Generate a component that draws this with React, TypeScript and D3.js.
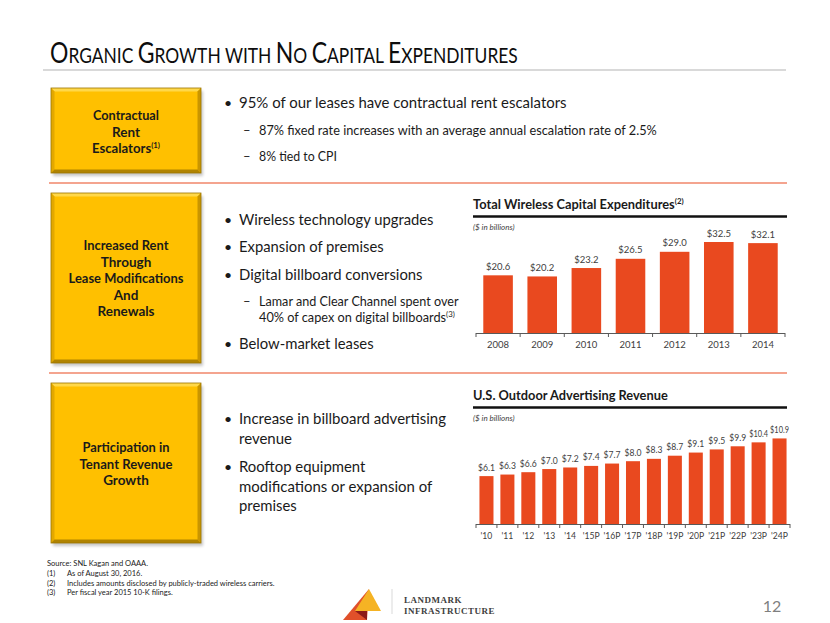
import { useEffect, useLayoutEffect, useRef, useState } from 'react';
import * as d3 from 'd3';

// chart data
const capexYears = ['2008', '2009', '2010', '2011', '2012', '2013', '2014'];
const capexValues = [20.6, 20.2, 23.2, 26.5, 29.0, 32.5, 32.1];

const outdoorYears = ["'10", "'11", "'12", "'13", "'14", "'15P", "'16P", "'17P", "'18P", "'19P", "'20P", "'21P", "'22P", "'23P", "'24P"];
const outdoorValues = [6.1, 6.3, 6.6, 7.0, 7.2, 7.4, 7.7, 8.0, 8.3, 8.7, 9.1, 9.5, 9.9, 10.4, 10.9];

const FONT = 'Lato, "Open Sans", sans-serif';
const BAR = '#E9491F';
const INK = '#404040';
const TEXT = '#1a1a1a';

interface BarChartProps {
    cats: string[];
    values: number[];
    x0: number;
    x1: number;
    base: number;
    top: number;
    yMax: number;
    fontSize: number;
}

const BarChart: React.FC<BarChartProps> = ({ cats, values, x0, x1, base, top, yMax, fontSize }) => {
    const ref = useRef<SVGGElement | null>(null);

    useEffect(() => {
        const g = d3.select(ref.current);
        g.selectAll('*').remove();

        const x = d3.scaleBand<string>().domain(cats).range([x0, x1]).paddingInner(0.33).paddingOuter(0.165);
        const y = d3.scaleLinear().domain([0, yMax]).range([base, top]);
        const maxW = x.step() - 2;

        // narrow a label a little if it would run into its neighbour
        const fit = function (this: SVGTextElement) {
            const w = this.getBBox().width;
            if (w > maxW) {
                const t = d3.select(this);
                const cx = +t.attr('x');
                const cy = +t.attr('y');
                t.attr('x', 0).attr('y', 0)
                    .attr('transform', `translate(${cx},${cy}) scale(${maxW / w},1)`);
            }
        };

        g.selectAll('rect.bar')
            .data(values)
            .join('rect')
            .attr('class', 'bar')
            .attr('x', (d, i) => x(cats[i]) as number)
            .attr('y', d => y(d))
            .attr('width', x.bandwidth())
            .attr('height', d => base - y(d))
            .attr('fill', BAR);

        g.selectAll('text.val')
            .data(values)
            .join('text')
            .attr('class', 'val')
            .attr('x', (d, i) => (x(cats[i]) as number) + x.bandwidth() / 2)
            .attr('y', d => y(d) - 5.5)
            .attr('text-anchor', 'middle')
            .attr('font-size', fontSize)
            .attr('fill', INK)
            .text(d => `$${d.toFixed(1)}`)
            .each(fit);

        // axis line with ticks on the category boundaries
        g.append('line')
            .attr('x1', x0).attr('x2', x1)
            .attr('y1', base + 0.5).attr('y2', base + 0.5)
            .attr('stroke', '#595959').attr('stroke-width', 1.2);

        g.selectAll('line.tick')
            .data(d3.range(cats.length + 1))
            .join('line')
            .attr('class', 'tick')
            .attr('x1', i => x0 + i * x.step()).attr('x2', i => x0 + i * x.step())
            .attr('y1', base).attr('y2', base + 4)
            .attr('stroke', '#595959');

        g.selectAll('text.cat')
            .data(cats)
            .join('text')
            .attr('class', 'cat')
            .attr('x', d => (x(d) as number) + x.bandwidth() / 2)
            .attr('y', base + 15)
            .attr('text-anchor', 'middle')
            .attr('font-size', fontSize)
            .attr('fill', INK)
            .text(d => d)
            .each(fit);
    }, [cats, values, x0, x1, base, top, yMax, fontSize]);

    return <g ref={ref} fontFamily={FONT} />;
};

// text squeezed horizontally to a given width (the slide font is narrower than Lato)
interface FitProps {
    x: number;
    y: number;
    w?: number;
    size: number;
    weight?: number;
    anchor?: 'start' | 'middle' | 'end';
    fill?: string;
    italic?: boolean;
    children: React.ReactNode;
}

const Fit: React.FC<FitProps> = ({ x, y, w, size, weight = 400, anchor = 'start', fill = TEXT, italic, children }) => {
    const ref = useRef<SVGTextElement | null>(null);
    const [s, setS] = useState(1);

    useLayoutEffect(() => {
        if (!w || !ref.current) return;
        const natural = ref.current.getBBox().width;
        if (natural > 0) setS(w / natural);
    }, [w]);

    return (
        <text ref={ref} transform={`translate(${x},${y}) scale(${s},1)`} textAnchor={anchor} fontSize={size}
            fontWeight={weight} fontStyle={italic ? 'italic' : 'normal'} fill={fill}>
            {children}
        </text>
    );
};

interface BoxProps {
    x: number;
    y: number;
    w: number;
    h: number;
    lines: { t: React.ReactNode; len?: number }[];
    firstBase: number;
}

const Box: React.FC<BoxProps> = ({ x, y, w, h, lines, firstBase }) => {
    const b = 3.5;
    return (
        <g>
            <rect x={x + 2} y={y + 3} width={w} height={h} fill="#000" opacity={0.22} filter="url(#blur)" />
            <rect x={x} y={y} width={w} height={h} fill="#FFC000" />
            <polygon points={`${x},${y} ${x + w},${y} ${x + w - b},${y + b} ${x + b},${y + b}`} fill="#FFD84A" />
            <polygon points={`${x},${y} ${x + b},${y + b} ${x + b},${y + h - b} ${x},${y + h}`} fill="#E3A800" />
            <polygon points={`${x + w},${y} ${x + w - b},${y + b} ${x + w - b},${y + h - b} ${x + w},${y + h}`} fill="#C99500" />
            <polygon points={`${x},${y + h} ${x + b},${y + h - b} ${x + w - b},${y + h - b} ${x + w},${y + h}`} fill="#B08300" />
            <rect x={x} y={y} width={w} height={h} fill="none" stroke="#9C7500" strokeWidth={0.8} />
            {lines.map((l, i) => (
                <Fit key={i} x={x + w / 2} y={firstBase + i * 16.6} w={l.len} anchor="middle" size={13.5} weight={700}>
                    {l.t}
                </Fit>
            ))}
        </g>
    );
};

const Bullet: React.FC<{ y: number; text: string; len?: number }> = ({ y, text, len }) => (
    <g>
        <text x={224} y={y} fontSize={14} fill={TEXT}>•</text>
        <Fit x={239} y={y} w={len} size={15.5}>{text}</Fit>
    </g>
);

const Dash: React.FC<{ y: number; len?: number; dash?: boolean; children: React.ReactNode }> = ({ y, len, dash = true, children }) => (
    <g>
        {dash && <text x={243} y={y} fontSize={13} fill={TEXT}>–</text>}
        <Fit x={259} y={y} w={len} size={13}>{children}</Fit>
    </g>
);

const sup = (t: string) => <tspan fontSize={8} dy={-5}>{t}</tspan>;

const App = () => {
    return (
        <svg width={830} height={623} style={{ position: 'absolute', left: 0, top: 0, background: '#fff' }} fontFamily={FONT}>
            <defs>
                <filter id="blur" x="-10%" y="-10%" width="120%" height="120%">
                    <feGaussianBlur stdDeviation={1.5} />
                </filter>
            </defs>
            <rect width={830} height={623} fill="#fff" />

            {/* slide title in small caps */}
            <Fit x={50} y={63} w={468} size={29} fill="#0d0d0d">
                O<tspan fontSize={22}>RGANIC </tspan>G<tspan fontSize={22}>ROWTH WITH </tspan>N<tspan fontSize={22}>O </tspan>
                C<tspan fontSize={22}>APITAL </tspan>E<tspan fontSize={22}>XPENDITURES</tspan>
            </Fit>
            <line x1={43} x2={786} y1={70} y2={70} stroke="#d9d9d9" strokeWidth={2} />

            {/* section 1 */}
            <Box x={51} y={88} w={150} h={85} firstBase={120}
                lines={[{ t: 'Contractual', len: 66 }, { t: 'Rent' }, { t: <>Escalators{sup('(1)')}</>, len: 68 }]} />
            <Bullet y={108} text="95% of our leases have contractual rent escalators" len={328} />
            <Dash y={135} len={398}>87% fixed rate increases with an average annual escalation rate of 2.5%</Dash>
            <Dash y={161} len={78}>8% tied to CPI</Dash>
            <line x1={49} x2={787} y1={183} y2={183} stroke="#F0866A" strokeWidth={1.5} />

            {/* section 2 */}
            <Box x={51} y={193} w={150} h={170} firstBase={250}
                lines={[{ t: 'Increased Rent', len: 85 }, { t: 'Through' }, { t: 'Lease Modifications', len: 115 }, { t: 'And' }, { t: 'Renewals' }]} />
            <Bullet y={225} text="Wireless technology upgrades" len={195} />
            <Bullet y={252} text="Expansion of premises" len={145} />
            <Bullet y={280} text="Digital billboard conversions" len={184} />
            <Dash y={306} len={200}>Lamar and Clear Channel spent over</Dash>
            <Dash y={322} len={196} dash={false}>40% of capex on digital billboards{sup('(3)')}</Dash>
            <Bullet y={349} text="Below-market leases" len={135} />
            <line x1={49} x2={787} y1={373} y2={373} stroke="#F0866A" strokeWidth={1.5} />

            {/* section 3 */}
            <Box x={51} y={383} w={150} h={160} firstBase={452}
                lines={[{ t: 'Participation in', len: 87 }, { t: 'Tenant Revenue', len: 93 }, { t: 'Growth' }]} />
            <Bullet y={424} text="Increase in billboard advertising" len={207} />
            <Fit x={239} y={444} w={53} size={15.5}>revenue</Fit>
            <Bullet y={472} text="Rooftop equipment" len={127} />
            <Fit x={239} y={492} w={194} size={15.5}>modifications or expansion of</Fit>
            <Fit x={239} y={511} w={58} size={15.5}>premises</Fit>

            {/* chart 1 */}
            <Fit x={473} y={209} w={211} size={13} weight={700}>
                Total Wireless Capital Expenditures{sup('(2)')}
            </Fit>
            <line x1={473} x2={787} y1={216.5} y2={216.5} stroke="#111" strokeWidth={2.5} />
            <Fit x={473} y={230} size={8} italic fill={INK}>($ in billions)</Fit>
            <BarChart cats={capexYears} values={capexValues} x0={476} x1={785} base={333} top={235} yMax={35} fontSize={9.5} />

            {/* chart 2 */}
            <Fit x={473} y={400} w={195} size={13} weight={700}>U.S. Outdoor Advertising Revenue</Fit>
            <line x1={473} x2={787} y1={407.5} y2={407.5} stroke="#111" strokeWidth={2.5} />
            <Fit x={473} y={421} size={8} italic fill={INK}>($ in billions)</Fit>
            <BarChart cats={outdoorYears} values={outdoorValues} x0={476} x1={790} base={524} top={429.8} yMax={12} fontSize={8.6} />

            {/* footnotes */}
            <g fontSize={7.5} fill={TEXT}>
                <text x={47} y={566}>Source:  SNL Kagan and OAAA.</text>
                <text x={47} y={576}>(1)</text>
                <text x={67} y={576}>As of August 30, 2016.</text>
                <text x={47} y={585.5}>(2)</text>
                <Fit x={67} y={585.5} w={208} size={7.5}>Includes amounts disclosed by publicly-traded wireless carriers.</Fit>
                <text x={47} y={595}>(3)</text>
                <text x={67} y={595}>Per fiscal year 2015 10-K filings.</text>
            </g>

            {/* logo */}
            <polygon points="343,620 369,589 367,620" fill="#E0502A" />
            <polygon points="369,589 355,611 381,611" fill="#F5B324" />
            <polygon points="355,611 367,611 367,620" fill="#8B1A1A" />
            <line x1={392} x2={392} y1={589} y2={614} stroke="#d9d9d9" />
            <text x={404} y={603} fontFamily='"Liberation Serif", "DejaVu Serif", serif' fontSize={9} fontWeight={700}
                fill={INK} letterSpacing={0.5}>LANDMARK</text>
            <text x={404} y={614} fontFamily='"Liberation Serif", "DejaVu Serif", serif' fontSize={9} fontWeight={700}
                fill={INK} letterSpacing={0.5}>INFRASTRUCTURE</text>

            <text x={772} y={612} textAnchor="middle" fontSize={16} fill="#7f7f7f">12</text>
        </svg>
    );
};

export default App;
